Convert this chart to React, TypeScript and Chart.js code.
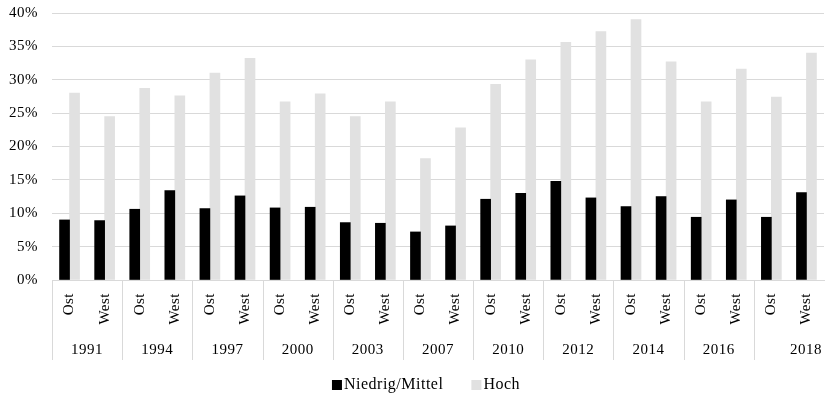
import React, { useEffect, useRef } from "react";
import { Chart, registerables } from "chart.js";

Chart.register(...registerables);

// Survey years and the two regions shown for each year
const years = ["1991", "1994", "1997", "2000", "2003", "2007", "2010", "2012", "2014", "2016", "2018"];
const regions = ["Ost", "West"];

// Shares in percent, ordered year by year as Ost, West
const niedrigMittel = [
  9.0, 8.9, 10.6, 13.4, 10.7, 12.6, 10.8, 10.9, 8.6, 8.5, 7.2,
  8.1, 12.1, 13.0, 14.8, 12.3, 11.0, 12.5, 9.4, 12.0, 9.4, 13.1,
];
const hoch = [
  28.0, 24.5, 28.7, 27.6, 31.0, 33.2, 26.7, 27.9, 24.5, 26.7, 18.2,
  22.8, 29.3, 33.0, 35.6, 37.2, 39.0, 32.7, 26.7, 31.6, 27.4, 34.0,
];

// Value axis ticks
const yTicks = [0, 5, 10, 15, 20, 25, 30, 35, 40];

const FONT = "'Liberation Serif', 'Times New Roman', serif";
const TEXT = "#000000";
const GRID = "#d9d9d9";
const SPACING = "0.5px";

const setSpacing = (chart: any) => {
  const ctx = chart.ctx as any;
  if ("letterSpacing" in ctx) ctx.letterSpacing = SPACING;
};

// Year groups below the Ost/West labels, with separators between groups
const yearGroups = {
  id: "yearGroups",
  afterDraw(chart: any) {
    const ctx = chart.ctx;
    const x = chart.scales.x;
    const area = chart.chartArea;
    const per = regions.length;
    ctx.save();
    setSpacing(chart);
    ctx.strokeStyle = GRID;
    ctx.lineWidth = 1;
    ctx.fillStyle = TEXT;
    ctx.font = `15px ${FONT}`;
    ctx.textBaseline = "middle";
    years.forEach((year, g) => {
      const first = x.getPixelForValue(g * per);
      const last = x.getPixelForValue(g * per + per - 1);
      const step = per > 1 ? (last - first) / (per - 1) : x.width / x.ticks.length;
      const left = first - step / 2;
      const right = Math.min(last + step / 2, area.right);
      const lx = Math.round(left) + 0.5;
      ctx.beginPath();
      ctx.moveTo(lx, area.bottom);
      ctx.lineTo(lx, area.bottom + 80);
      ctx.stroke();
      const isLast = g === years.length - 1;
      if (isLast) {
        ctx.textAlign = "right";
        ctx.fillText(year, right - 2, area.bottom + 70);
      } else {
        ctx.textAlign = "center";
        ctx.fillText(year, (left + right) / 2, area.bottom + 70);
      }
    });
    ctx.restore();
  },
};

// Legend row at the bottom: small square swatch followed by the series name
const bottomLegend = {
  id: "bottomLegend",
  afterDraw(chart: any) {
    const ctx = chart.ctx;
    ctx.save();
    setSpacing(chart);
    ctx.font = `16px ${FONT}`;
    ctx.textBaseline = "alphabetic";
    ctx.textAlign = "left";
    const box = 10;
    const gap = 2;
    const between = 28;
    const items = chart.data.datasets.map((ds: any) => ({
      label: ds.label,
      color: ds.backgroundColor,
      w: ctx.measureText(ds.label).width,
    }));
    const total =
      items.reduce((s: number, it: any) => s + box + gap + it.w, 0) + between * (items.length - 1);
    let cx = 426 - total / 2;
    const top = 380;
    items.forEach((it: any) => {
      ctx.fillStyle = it.color;
      ctx.fillRect(cx, top, box, box);
      cx += box + gap;
      ctx.fillStyle = TEXT;
      ctx.fillText(it.label, cx, top + 9);
      cx += it.w + between;
    });
    ctx.restore();
  },
};

const spacingPlugin = {
  id: "spacing",
  beforeUpdate: setSpacing,
  beforeLayout: setSpacing,
  beforeDraw: setSpacing,
};

export default function App() {
  const canvasRef = useRef<HTMLCanvasElement | null>(null);

  useEffect(() => {
    if (!canvasRef.current) return;
    const labels = years.flatMap(() => regions);
    const chart = new Chart(canvasRef.current, {
      type: "bar",
      data: {
        labels,
        datasets: [
          {
            label: "Niedrig/Mittel",
            data: niedrigMittel,
            backgroundColor: "#000000",
            barThickness: 10,
          },
          {
            label: "Hoch",
            data: hoch,
            backgroundColor: "#e1e1e1",
            barThickness: 10,
          },
        ],
      },
      options: {
        animation: false,
        responsive: true,
        maintainAspectRatio: false,
        devicePixelRatio: 1,
        layout: { padding: { top: 13, right: 2, left: 0, bottom: 0 } },
        plugins: {
          legend: { display: false },
          tooltip: { enabled: false },
        },
        scales: {
          x: {
            grid: { display: false, drawTicks: false },
            border: { display: true, color: GRID, width: 1 },
            ticks: {
              color: TEXT,
              font: { family: FONT, size: 15 },
              minRotation: 90,
              maxRotation: 90,
              autoSkip: false,
              padding: 13,
            },
            afterFit(scale: any) {
              scale.height = 115;
              scale.paddingLeft = 0;
              scale.paddingRight = 0;
            },
          },
          y: {
            min: yTicks[0],
            max: yTicks[yTicks.length - 1],
            afterBuildTicks(scale: any) {
              scale.ticks = yTicks.map((v) => ({ value: v }));
            },
            grid: { color: GRID, lineWidth: 1, drawTicks: false },
            border: { display: false },
            ticks: {
              color: TEXT,
              font: { family: FONT, size: 15 },
              padding: 14,
              callback: (v: any) => `${v}%`,
            },
            afterFit(scale: any) {
              scale.width = 52;
              scale.paddingTop = 0;
              scale.paddingBottom = 0;
            },
          },
        },
      },
      plugins: [spacingPlugin, yearGroups, bottomLegend],
    });
    return () => chart.destroy();
  }, []);

  return (
    <div style={{ position: "fixed", left: 0, top: 0, width: 826, height: 395, background: "#ffffff" }}>
      <canvas ref={canvasRef} />
    </div>
  );
}
